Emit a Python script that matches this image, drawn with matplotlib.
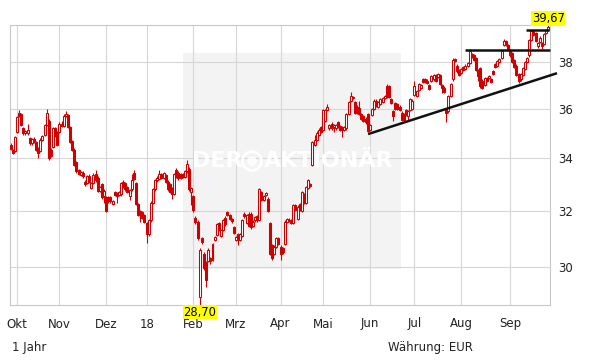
import matplotlib
matplotlib.use("Agg")
import matplotlib.pyplot as plt
from matplotlib.patches import Rectangle, Ellipse
from matplotlib.ticker import NullLocator
from matplotlib.transforms import blended_transform_factory

# --- Daily candles, Sep 2017 - Sep 2018 ---
month_labels = ["Okt", "Nov", "Dez", "18", "Feb", "Mrz", "Apr", "Mai", "Jun", "Jul", "Aug", "Sep"]
month_days = [3, 20, 22, 19, 22, 20, 21, 20, 22, 21, 22, 23, 19]  # first entry: end of Sep 2017

opens = [
    34.55, 34.34, 34.30,
    35.05, 35.85, 35.80, 35.20, 35.00, 35.00, 34.80, 34.60, 34.78, 34.65, 34.40, 34.30, 34.75, 34.95, 35.35, 35.50, 34.35, 34.45, 35.20, 35.05,
    35.05, 35.40, 35.30, 35.70, 35.75, 35.25, 34.70, 34.35, 33.85, 33.55, 33.35, 33.45, 33.10, 33.05, 33.30, 32.85, 33.05, 33.38, 33.25, 32.75, 33.00, 32.55,
    32.50, 32.50, 32.50, 32.25, 32.70, 32.65, 32.60, 32.62, 33.10, 33.05, 32.88, 32.55, 32.80, 33.45, 33.05, 32.25, 32.00, 31.95, 31.85,
    31.55, 31.15, 31.65, 32.30, 32.80, 33.15, 33.20, 33.40, 33.25, 33.35, 33.10, 33.00, 32.85, 32.62, 33.55, 33.45, 33.40, 33.40, 33.28, 33.50, 33.60, 32.70,
    32.55, 31.75, 31.60, 28.95, 31.00, 30.45, 30.15, 30.20, 30.30, 30.25, 30.95, 31.13, 31.55, 31.10, 31.30, 31.75, 31.95, 31.85, 31.70, 31.40,
    30.95, 31.15, 30.95, 31.10, 31.90, 31.55, 31.90, 31.90, 31.45, 31.65, 31.80, 31.68, 32.70, 32.40, 32.60, 32.45, 31.55, 30.75, 30.45, 30.70, 31.00,
    30.70, 30.65, 30.80, 31.60, 31.68, 31.65, 31.55, 32.20, 31.70, 32.25, 32.00, 32.60, 32.30, 32.85, 33.00, 33.75, 34.55, 34.75, 34.95, 35.25,
    35.15, 35.50, 35.95, 35.20, 35.40, 35.25, 35.20, 35.45, 35.30, 35.25, 35.15, 35.20, 35.80, 36.35, 36.45, 36.30, 36.10, 36.05, 35.80, 35.70, 35.60, 35.80,
    35.15, 35.75, 36.00, 36.35, 36.10, 36.20, 36.30, 36.45, 36.95, 36.95, 36.40, 35.90, 36.25, 36.20, 36.10, 35.85, 35.80, 35.95, 35.70, 35.95, 36.00,
    36.60, 36.55, 36.80, 36.90, 37.25, 37.25, 37.20, 37.00, 37.20, 37.25, 37.45, 37.35, 37.45, 37.00, 36.90, 35.95, 35.90, 36.55, 37.25, 38.15, 37.85, 37.65,
    37.55, 37.80, 37.70, 37.85, 37.95, 38.35, 38.30, 38.20, 37.65, 37.75, 37.20, 37.00, 37.30, 37.30, 37.25, 37.60, 37.90, 37.85, 38.00, 38.20, 38.75, 38.95, 38.75,
    38.55, 38.40, 38.10, 37.85, 37.50, 37.25, 37.45, 37.70, 38.00, 38.30, 39.00, 39.40, 39.30, 38.70, 38.90, 38.85, 38.80, 39.30, 39.45,
]
closes = [
    34.38, 34.22, 34.85,
    35.65, 35.72, 35.35, 35.00, 35.08, 35.12, 34.62, 34.78, 34.68, 34.35, 34.20, 34.75, 34.88, 35.35, 35.85, 34.00, 34.10, 35.20, 34.90, 34.55,
    35.40, 35.30, 35.72, 35.80, 35.25, 34.65, 34.35, 33.75, 33.50, 33.38, 33.48, 33.30, 33.00, 33.30, 33.10, 33.05, 33.35, 33.18, 32.75, 32.90, 32.50, 32.75,
    32.00, 32.35, 32.38, 32.35, 32.60, 32.55, 32.70, 33.05, 32.90, 32.80, 32.72, 32.78, 33.15, 33.20, 32.25, 31.85, 31.90, 31.75, 31.60,
    31.15, 31.65, 32.30, 32.80, 33.15, 33.25, 33.40, 33.25, 33.42, 33.10, 32.80, 32.70, 32.62, 33.40, 33.30, 33.22, 33.25, 33.28, 33.50, 33.80, 32.80, 32.85,
    32.05, 31.60, 31.00, 30.60, 30.88, 29.95, 29.55, 30.60, 30.20, 30.80, 31.05, 31.50, 31.30, 31.30, 31.65, 31.50, 31.85, 31.70, 31.62, 31.20,
    31.05, 30.95, 31.15, 31.65, 31.80, 31.85, 31.45, 31.40, 31.60, 31.78, 31.65, 32.80, 32.40, 32.55, 32.66, 32.00, 30.45, 30.30, 30.70, 31.00, 30.80,
    30.45, 30.50, 31.60, 31.70, 31.62, 31.55, 32.20, 32.05, 32.15, 32.05, 32.70, 32.30, 32.90, 33.15, 32.95, 34.65, 34.75, 35.00, 35.15, 35.05,
    35.95, 35.95, 36.10, 35.35, 35.20, 35.35, 35.35, 35.25, 35.15, 35.15, 35.25, 35.80, 36.30, 36.55, 36.50, 35.85, 35.85, 35.80, 35.60, 35.50, 35.45, 35.10,
    35.35, 36.00, 36.35, 36.15, 36.30, 36.40, 36.45, 36.55, 36.50, 36.50, 36.25, 35.70, 36.00, 36.00, 35.95, 35.55, 35.55, 35.75, 35.90, 36.40, 36.35,
    36.95, 36.75, 37.05, 37.00, 37.15, 37.15, 37.10, 36.85, 37.40, 37.45, 37.20, 37.50, 37.05, 36.90, 36.70, 35.85, 36.55, 37.05, 38.10, 38.05, 37.60, 37.45,
    37.70, 37.65, 37.85, 37.95, 38.50, 38.25, 38.10, 37.65, 37.40, 36.95, 36.90, 37.30, 37.20, 37.40, 37.15, 37.50, 37.80, 38.05, 38.15, 38.50, 38.95, 38.75, 38.55,
    38.30, 38.00, 37.80, 37.45, 37.20, 37.50, 37.75, 38.00, 38.20, 39.00, 39.40, 39.20, 38.95, 38.85, 39.10, 38.72, 39.25, 39.45, 39.60,
]
highs = [
    34.62, 34.38, 34.90,
    35.70, 35.95, 35.85, 35.25, 35.15, 35.40, 34.85, 34.82, 34.85, 34.70, 34.45, 34.80, 34.95, 35.40, 36.00, 35.60, 34.40, 35.25, 35.25, 35.10,
    35.45, 35.50, 35.78, 35.90, 35.80, 35.30, 34.75, 34.40, 33.90, 33.60, 33.50, 33.50, 33.15, 33.35, 33.38, 33.10, 33.45, 33.55, 33.30, 32.95, 33.05, 32.80,
    32.55, 32.55, 32.55, 32.40, 32.75, 32.70, 32.75, 33.10, 33.15, 33.10, 32.92, 32.82, 33.40, 33.55, 33.10, 32.30, 32.05, 32.00, 31.90,
    31.60, 31.70, 32.35, 32.85, 33.20, 33.30, 33.55, 33.45, 33.48, 33.40, 33.15, 33.05, 32.90, 33.45, 33.62, 33.50, 33.45, 33.45, 33.55, 33.92, 33.65, 32.90,
    32.60, 31.80, 31.65, 30.65, 31.05, 30.50, 30.20, 30.65, 30.35, 30.85, 31.10, 31.55, 31.60, 31.35, 31.70, 31.80, 32.00, 31.90, 31.75, 31.45,
    31.10, 31.20, 31.20, 31.70, 31.95, 31.90, 31.95, 31.95, 31.65, 31.82, 31.85, 32.85, 32.75, 32.60, 32.70, 32.50, 31.60, 30.80, 30.75, 31.05, 31.05,
    30.75, 30.70, 31.65, 31.75, 31.72, 31.70, 32.25, 32.25, 32.20, 32.30, 32.75, 32.65, 32.95, 33.20, 33.05, 34.70, 34.95, 35.10, 35.20, 35.30,
    36.00, 36.00, 36.20, 35.40, 35.45, 35.40, 35.40, 35.50, 35.35, 35.30, 35.30, 35.85, 36.35, 36.70, 36.55, 36.35, 36.15, 36.35, 35.85, 35.75, 35.65, 35.85,
    35.40, 36.05, 36.40, 36.40, 36.35, 36.45, 36.50, 36.60, 37.05, 37.00, 36.45, 35.95, 36.30, 36.25, 36.15, 35.90, 35.85, 36.00, 35.95, 36.45, 36.40,
    37.20, 36.80, 37.10, 37.05, 37.30, 37.30, 37.25, 37.05, 37.45, 37.50, 37.50, 37.55, 37.50, 37.05, 36.95, 36.00, 36.60, 37.10, 38.20, 38.20, 37.90, 37.70,
    37.75, 37.85, 37.90, 38.00, 38.60, 38.40, 38.35, 38.25, 37.70, 37.80, 37.25, 37.35, 37.35, 37.45, 37.30, 37.65, 37.95, 38.10, 38.20, 38.55, 39.05, 39.00, 38.80,
    38.60, 38.45, 38.15, 37.90, 37.55, 37.55, 37.80, 38.05, 38.25, 39.05, 39.45, 39.45, 39.35, 38.90, 39.15, 38.90, 39.30, 39.50, 39.67,
]
lows = [
    34.35, 34.18, 34.25,
    35.00, 35.65, 35.30, 34.95, 34.95, 34.95, 34.55, 34.55, 34.62, 34.30, 34.00, 34.25, 34.70, 34.90, 35.30, 33.95, 34.05, 34.40, 34.85, 34.50,
    35.00, 35.25, 35.25, 35.65, 35.20, 34.60, 34.30, 33.70, 33.45, 33.35, 33.30, 33.25, 32.95, 33.00, 33.05, 32.80, 33.00, 33.10, 32.70, 32.70, 32.45, 32.30,
    31.95, 32.30, 32.30, 32.20, 32.55, 32.30, 32.55, 32.55, 32.85, 32.75, 32.65, 32.40, 32.75, 33.15, 32.20, 31.80, 31.60, 31.70, 31.55,
    30.85, 31.10, 31.60, 32.25, 32.75, 33.10, 33.15, 33.20, 33.20, 33.05, 32.75, 32.65, 32.45, 32.58, 33.25, 33.15, 33.20, 33.22, 33.25, 33.45, 32.75, 32.20,
    31.95, 31.50, 30.95, 28.70, 30.80, 29.90, 29.30, 30.15, 30.10, 30.20, 30.90, 31.10, 31.25, 31.05, 31.25, 31.45, 31.80, 31.65, 31.55, 31.15,
    30.90, 30.75, 30.90, 31.05, 31.75, 31.50, 31.40, 31.35, 31.40, 31.60, 31.60, 31.62, 32.35, 32.35, 32.55, 31.95, 30.40, 30.25, 30.40, 30.65, 30.75,
    30.25, 30.45, 30.75, 31.55, 31.58, 31.50, 31.50, 32.00, 31.65, 32.00, 31.95, 32.25, 32.25, 32.80, 32.90, 33.70, 34.50, 34.70, 34.90, 35.00,
    35.10, 35.45, 35.90, 35.15, 35.15, 35.05, 35.15, 35.20, 35.10, 34.85, 35.10, 35.15, 35.75, 36.30, 36.40, 35.80, 35.80, 35.75, 35.55, 35.45, 35.40, 35.05,
    35.10, 35.70, 35.95, 36.10, 36.05, 36.15, 36.25, 36.40, 36.45, 36.45, 36.20, 35.50, 35.95, 35.95, 35.90, 35.50, 35.50, 35.70, 35.55, 35.90, 35.95,
    36.55, 36.50, 36.75, 36.85, 37.10, 37.10, 37.05, 36.80, 37.15, 37.20, 37.15, 37.30, 37.00, 36.65, 36.65, 35.45, 35.85, 36.50, 37.20, 38.00, 37.55, 37.40,
    37.50, 37.60, 37.65, 37.80, 37.90, 38.20, 38.05, 37.60, 37.20, 36.90, 36.85, 36.95, 37.15, 37.25, 37.10, 37.45, 37.75, 37.80, 37.95, 38.15, 38.70, 38.70, 38.50,
    38.25, 37.95, 37.75, 37.40, 37.10, 37.20, 37.40, 37.65, 37.95, 38.25, 38.95, 39.15, 38.90, 38.65, 38.85, 38.60, 38.75, 39.25, 39.40,
]

# hand-drawn lines on the chart (day index, price)
trend_x = [168.2, 257.1]
trend_y = [34.97, 37.52]
resist1_x = [214.0, 253.8]
resist1_y = [38.53, 38.53]
resist2_x = [242.4, 253.2]
resist2_y = [39.42, 39.42]

yticks = [30, 32, 34, 36, 38]

RED = "#d00000"
GRID = "#d6d6d6"

n = len(closes)
idx = list(range(n))
tick_pos = []
start = 0
for d in month_days[:-1]:
    start += d
    tick_pos.append(start)

fig = plt.figure(figsize=(6.11, 3.64), dpi=100)
ax = fig.add_axes([10 / 611, 59 / 364, 540 / 611, 280 / 364])
ax.set_yscale("log")
ax.set_ylim(28.70, 39.67)
ax.set_xlim(-0.28, 253.8)

# grid + frame
ax.set_axisbelow(True)
ax.grid(True, color=GRID, lw=0.8)
for s in ax.spines.values():
    s.set_color("#c8c8c8")
    s.set_linewidth(0.8)

ax.yaxis.tick_right()
ax.yaxis.set_minor_locator(NullLocator())
ax.set_yticks(yticks)
ax.set_yticklabels([str(v) for v in yticks])
ax.set_xticks(tick_pos)
ax.set_xticklabels(month_labels)
ax.tick_params(axis="y", length=0, pad=6, labelsize=8.5, colors="#222222")
ax.tick_params(axis="x", length=0, pad=9, labelsize=8.5, colors="#222222")

# watermark box + logo text
ax.add_patch(Rectangle((0.320, 0.1286), 0.4035, 0.7714, transform=ax.transAxes,
                       facecolor="#f3f3f3", edgecolor="none", zorder=0.2))
ax.text(0.337, 0.514, "DER", transform=ax.transAxes, ha="left", va="center",
        fontsize=16, fontweight="bold", color="white", zorder=0.8)
ax.text(0.470, 0.514, "AKTIONÄR", transform=ax.transAxes, ha="left", va="center",
        fontsize=16, fontweight="bold", color="white", zorder=0.8)
ax.add_patch(Ellipse((0.448, 0.514), 19 / 540, 19 / 280, transform=ax.transAxes,
                     facecolor="none", edgecolor="white", lw=2, zorder=0.8))
ax.add_patch(Ellipse((0.448, 0.514), 10 / 540, 10 / 280, transform=ax.transAxes,
                     facecolor="white", edgecolor="none", alpha=0.8, zorder=0.8))

# candles
ax.vlines(idx, lows, highs, color=RED, lw=0.8, zorder=2)
for i in idx:
    o, c = opens[i], closes[i]
    lo, hi = min(o, c), max(o, c)
    if hi - lo < 0.03:
        hi = lo + 0.03
    face = RED if c < o else "white"
    ax.add_patch(Rectangle((i - 0.47, lo), 0.94, hi - lo, facecolor=face,
                           edgecolor=RED, lw=0.75, zorder=3))

# drawn trend / resistance lines
for lx, ly in [(trend_x, trend_y), (resist1_x, resist1_y), (resist2_x, resist2_y)]:
    ax.plot(lx, ly, color="#111111", lw=1.8, zorder=4, clip_on=False,
            solid_capstyle="butt")

# max / min labels
tr = blended_transform_factory(ax.transData, ax.transAxes)
i_max = highs.index(max(highs))
i_min = lows.index(min(lows))
box = dict(boxstyle="square,pad=0.05", fc="#ffff00", ec="none")
ax.text(i_max, 1.0, f"{max(highs):.2f}".replace(".", ","), transform=tr, ha="center",
        va="bottom", fontsize=8.3, bbox=box, clip_on=False, zorder=6)
ax.text(i_min, -0.003, f"{min(lows):.2f}".replace(".", ","), transform=tr, ha="center",
        va="top", fontsize=8.3, bbox=box, clip_on=False, zorder=6)

fig.text(12 / 611, 1 - 347 / 364, "1 Jahr", va="center", fontsize=8.5, color="#222222")
fig.text(388 / 611, 1 - 347 / 364, "Währung: EUR", va="center", fontsize=8.5, color="#222222")

fig.savefig("out.png", dpi=100)
